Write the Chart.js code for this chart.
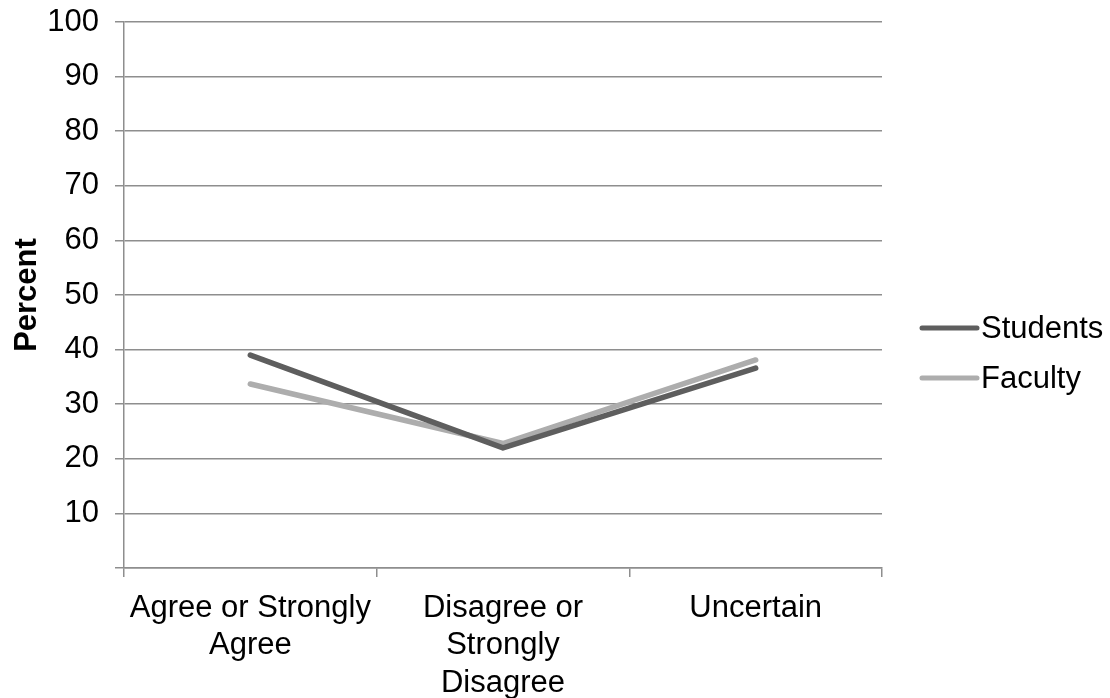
<!DOCTYPE html>
<html>
<head>
<meta charset="utf-8">
<script src="https://cdn.jsdelivr.net/npm/chart.js@4/dist/chart.umd.min.js"></script>
<style>
  html, body { margin: 0; padding: 0; background: #fff; }
  #wrap { width: 1110px; height: 698px; }
</style>
</head>
<body>
<div id="wrap"><canvas id="c" width="1110" height="698"></canvas></div>
<script>
// Survey responses, percent of each group
const categories = [
  ['Agree or Strongly', 'Agree'],
  ['Disagree or', 'Strongly', 'Disagree'],
  ['Uncertain']
];
const studentValues = [39.0, 22.0, 36.6];
const facultyValues = [33.7, 22.8, 38.1];
const yTickLabels = ['', '10', '20', '30', '40', '50', '60', '70', '80', '90', '100'];

const FONT = "'Liberation Sans', Arial, sans-serif";
const GRID = '#8e8e8e';

// Legend drawn to the right of the plot: short line sample + label
const sideLegend = {
  id: 'sideLegend',
  afterDraw(chart) {
    const ctx = chart.ctx;
    const area = chart.chartArea;
    const sets = chart.data.datasets;
    const x0 = area.right + 40;
    const x1 = x0 + 55;
    const gap = 50;
    const yMid = chart.height / 2 + 4;
    ctx.save();
    ctx.font = '31px ' + FONT;
    ctx.textBaseline = 'middle';
    ctx.textAlign = 'left';
    sets.forEach((ds, i) => {
      const y = yMid + (i - (sets.length - 1) / 2) * gap;
      ctx.strokeStyle = ds.borderColor;
      ctx.lineWidth = 5;
      ctx.lineCap = 'round';
      ctx.beginPath();
      ctx.moveTo(x0, y);
      ctx.lineTo(x1, y);
      ctx.stroke();
      ctx.fillStyle = '#000';
      ctx.fillText(ds.label, x1 + 4, y + 1);
    });
    ctx.restore();
  }
};

new Chart(document.getElementById('c'), {
  type: 'line',
  data: {
    labels: categories,
    datasets: [
      {
        label: 'Students',
        data: studentValues,
        borderColor: '#5e5e5e',
        backgroundColor: '#5e5e5e',
        borderWidth: 5.5,
        borderCapStyle: 'round',
        borderJoinStyle: 'round',
        pointRadius: 0,
        tension: 0
      },
      {
        label: 'Faculty',
        data: facultyValues,
        borderColor: '#adadad',
        backgroundColor: '#adadad',
        borderWidth: 5.5,
        borderCapStyle: 'round',
        borderJoinStyle: 'round',
        pointRadius: 0,
        tension: 0
      }
    ]
  },
  options: {
    responsive: false,
    animation: false,
    layout: { padding: { left: 0, right: 228, top: 22, bottom: 0 } },
    plugins: {
      legend: { display: false },
      tooltip: { enabled: false }
    },
    scales: {
      x: {
        offset: true,
        grid: {
          offset: true,
          drawOnChartArea: false,
          color: GRID,
          lineWidth: 1.5,
          tickLength: 9
        },
        border: { color: GRID, width: 1.5 },
        ticks: {
          color: '#000',
          font: { family: FONT, size: 31 },
          padding: 13,
          maxRotation: 0,
          autoSkip: false
        },
        afterFit(s) {
          s.height = 130;
          s.paddingLeft = 0;
          s.paddingRight = 0;
        }
      },
      y: {
        min: 0,
        max: 100,
        grid: {
          color: GRID,
          lineWidth: 1.5,
          tickLength: 9
        },
        border: { color: GRID, width: 1.5 },
        ticks: {
          stepSize: 10,
          color: '#000',
          font: { family: FONT, size: 31 },
          padding: 16,
          callback: (v, i) => yTickLabels[i]
        },
        title: {
          display: true,
          text: 'Percent',
          color: '#000',
          font: { family: FONT, size: 31, weight: 'bold' },
          padding: { top: 9, bottom: 0 }
        },
        afterFit(s) {
          s.width = 124;
          s.paddingTop = 0;
          s.paddingBottom = 0;
        }
      }
    }
  },
  plugins: [sideLegend]
});
</script>
</body>
</html>
